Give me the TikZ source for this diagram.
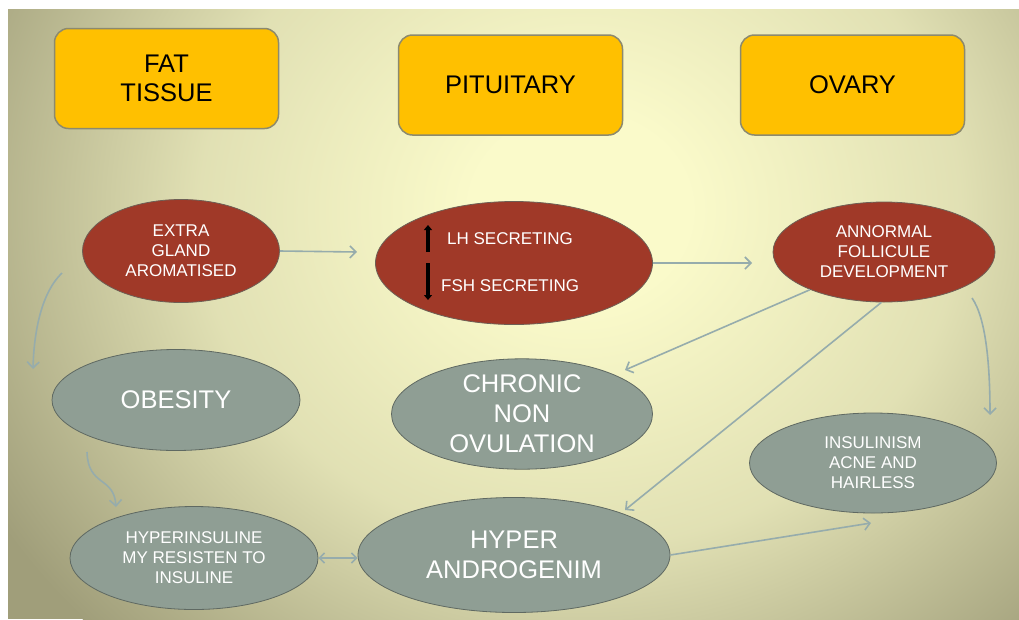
\documentclass[tikz,border=0pt]{standalone}
\usepackage{fontspec}
\setmainfont{Liberation Sans}
\usetikzlibrary{shapes.geometric,arrows.meta,calc}
\definecolor{bgin}{RGB}{250,250,202}
\definecolor{bgout}{RGB}{160,158,122}
\definecolor{boxorange}{RGB}{255,192,0}
\definecolor{boxedge}{RGB}{140,138,110}
\definecolor{redfill}{RGB}{160,57,40}
\definecolor{rededge}{RGB}{110,95,85}
\definecolor{grayfill}{RGB}{143,158,148}
\definecolor{grayedge}{RGB}{95,105,98}
\definecolor{connclr}{RGB}{150,172,172}
\pgfdeclareradialshading{bgshade}{\pgfpoint{0bp}{0bp}}{color(0bp)=(bgin); color(4bp)=(bgin); color(14bp)=(bgin!72!bgout); color(25bp)=(bgout); color(50bp)=(bgout)}
\begin{document}
\begin{tikzpicture}[x=1pt,y=-1pt,
  box/.style={rectangle, rounded corners=14pt, fill=boxorange, draw=boxedge, line width=1.5pt,
    minimum width=224pt, minimum height=100pt, inner sep=0pt, align=center,
    font=\fontsize{25.5}{29}\selectfont},
  redell/.style={ellipse, fill=redfill, draw=rededge, line width=0.8pt, text=white, inner sep=0pt,
    align=center, font=\fontsize{17}{20}\selectfont},
  grayell/.style={ellipse, fill=grayfill, draw=grayedge, line width=0.8pt, text=white, inner sep=0pt,
    align=center},
  small/.style={font=\fontsize{17}{20}\selectfont},
  big/.style={font=\fontsize{25.5}{30}\selectfont},
  conn/.style={draw=connclr, line width=1.6pt, -{Straight Barb[length=6pt,width=12pt]}},
  updown/.style={line width=4pt, black, -{Triangle[length=5pt,width=8pt]}},
  lbl/.style={text=white, inner sep=0pt, font=\fontsize{17}{20}\selectfont}
]
\useasboundingbox (0,0) rectangle (1019,619);
\begin{scope}
  \clip (8,9) rectangle (1019,619);
  \fill[bgout] (8,9) rectangle (1019,619);
  \shade[shading=bgshade] (580,210) ellipse (680 and 600);
\end{scope}

% top boxes
\node[box] (fat) at (166.5,78.5) {FAT\\TISSUE};
\node[box] (pit) at (510.5,85) {PITUITARY};
\node[box] (ova) at (852.5,85) {OVARY};

% red ellipses
\node[redell, minimum width=197pt, minimum height=103pt] (ext) at (181,251) {EXTRA\\GLAND\\AROMATISED};
\node[redell, minimum width=277pt, minimum height=123pt] (lh) at (514,263) {};
\node[lbl, anchor=west] (lht) at (447,239) {LH SECRETING};
\node[lbl, anchor=west] (fsh) at (441,286) {FSH SECRETING};
\node[redell, minimum width=222pt, minimum height=100pt] (ann) at (884,252) {ANNORMAL\\FOLLICULE\\DEVELOPMENT};

\draw[updown] ($(lht.west)+(-19,13)$) -- ($(lht.west)+(-19,-14)$);
\draw[updown] ($(fsh.west)+(-13,-23)$) -- ($(fsh.west)+(-13,14)$);

% gray ellipses
\node[grayell, big, minimum width=248pt, minimum height=101pt] (obe) at (176,400) {OBESITY};
\node[grayell, big, minimum width=261pt, minimum height=106pt] (chr) at (522,414) {CHRONIC\\NON\\OVULATION};
\node[grayell, small, minimum width=247pt, minimum height=100pt] (ins) at (873,463) {INSULINISM\\ACNE AND\\HAIRLESS};
\node[grayell, small, minimum width=248pt, minimum height=103pt] (hin) at (194,558) {HYPERINSULINE\\MY RESISTEN TO\\INSULINE};
\node[grayell, big, minimum width=312pt, minimum height=115pt] (hyp) at (514,555) {\raisebox{-9pt}{\parbox{220pt}{\centering HYPER\\ANDROGENIM}}};

% connector end points
\coordinate (e1) at (357,252);
\coordinate (e2) at (752,263);
\coordinate (s3) at (62,273);
\coordinate (e3) at (33,369);
\coordinate (s4) at (87,452);
\coordinate (e4) at (116,507);
\coordinate (e5) at (625,370);
\coordinate (e6) at (625,510);
\coordinate (s7) at (972,298);
\coordinate (e7) at (990,415);
\coordinate (e8) at (871,523);

\draw[conn] (ext.east) -- (e1);
\draw[conn] (lh.east) -- (e2);
\draw[conn] (s3) .. controls (42,292) and (34,330) .. (e3);
\draw[conn] (s4) .. controls (88,487) and (114,476) .. (e4);
\draw[conn] (ann.207) -- (e5);
\draw[conn] (ann.267) -- (e6);
\draw[conn] (s7) .. controls (986,318) and (990,365) .. (e7);
\draw[conn] (hyp.east) -- (e8);
\draw[draw=connclr, line width=1.6pt, {Straight Barb[length=5pt,width=10pt]}-{Straight Barb[length=5pt,width=10pt]}] (hin.east) -- (hin.east -| hyp.west);
\end{tikzpicture}
\end{document}
